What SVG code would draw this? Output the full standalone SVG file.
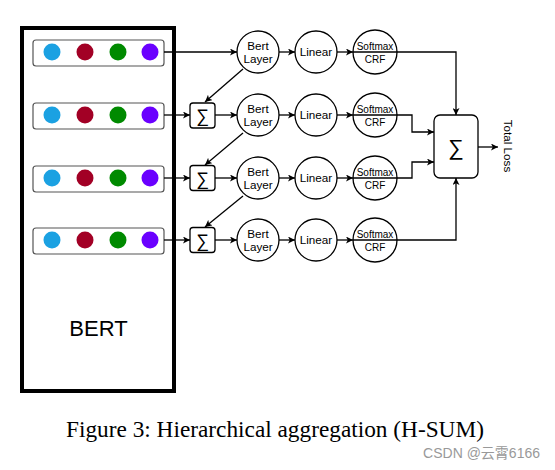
<svg xmlns="http://www.w3.org/2000/svg" width="555" height="470" viewBox="0 0 555 470">
<style>
.ln{fill:none;stroke:#000;stroke-width:1.3}
.nd{fill:#fff;stroke:#000;stroke-width:1.3}
.row{fill:#fff;stroke:#555;stroke-width:1.2}
.t{font-family:"Liberation Sans",Arial,sans-serif;fill:#000;text-anchor:middle}
.s{font-size:11.7px}
.sm{font-size:10px}
.b{fill:#1ba1e2}.r{fill:#a20025}.g{fill:#008a00}.p{fill:#6a00ff}
</style>
<defs>
<marker id="ah" viewBox="0 0 10 10" refX="10" refY="5" markerWidth="7" markerHeight="7" markerUnits="userSpaceOnUse" orient="auto">
<path d="M0,0 L10,5 L0,10 L2.5,5 Z" fill="#000"/>
</marker>
</defs>
<rect width="555" height="470" fill="#fff"/>
<g id="bert">
<rect x="22" y="28" width="152" height="363" fill="#fff" stroke="#000" stroke-width="4"/>
<text class="t" x="98.5" y="336" font-size="22">BERT</text>
</g>
<g id="emb1"><rect class="row" x="33" y="40" width="131" height="26" rx="3"/><circle class="b" cx="52" cy="52" r="8.5"/><circle class="r" cx="85" cy="52" r="8.5"/><circle class="g" cx="118" cy="52" r="8.5"/><circle class="p" cx="150" cy="52" r="8.5"/></g>
<g id="emb2"><rect class="row" x="33" y="103" width="131" height="26" rx="3"/><circle class="b" cx="52" cy="115" r="8.5"/><circle class="r" cx="85" cy="115" r="8.5"/><circle class="g" cx="118" cy="115" r="8.5"/><circle class="p" cx="150" cy="115" r="8.5"/></g>
<g id="emb3"><rect class="row" x="33" y="166" width="131" height="26" rx="3"/><circle class="b" cx="52" cy="178" r="8.5"/><circle class="r" cx="85" cy="178" r="8.5"/><circle class="g" cx="118" cy="178" r="8.5"/><circle class="p" cx="150" cy="178" r="8.5"/></g>
<g id="emb4"><rect class="row" x="33" y="228" width="131" height="26" rx="3"/><circle class="b" cx="52" cy="240" r="8.5"/><circle class="r" cx="85" cy="240" r="8.5"/><circle class="g" cx="118" cy="240" r="8.5"/><circle class="p" cx="150" cy="240" r="8.5"/></g>

<g id="connectors">
<path class="ln" d="M164,52 H237" marker-end="url(#ah)"/>
<path class="ln" d="M164,115 H190" marker-end="url(#ah)"/>
<path class="ln" d="M164,178 H190" marker-end="url(#ah)"/>
<path class="ln" d="M164,240 H190" marker-end="url(#ah)"/>
<path class="ln" d="M215,115 H237" marker-end="url(#ah)"/>
<path class="ln" d="M215,178 H237" marker-end="url(#ah)"/>
<path class="ln" d="M215,240 H237" marker-end="url(#ah)"/>
<path class="ln" d="M279,52 H295" marker-end="url(#ah)"/>
<path class="ln" d="M279,115 H295" marker-end="url(#ah)"/>
<path class="ln" d="M279,178 H295" marker-end="url(#ah)"/>
<path class="ln" d="M279,240 H295" marker-end="url(#ah)"/>
<path class="ln" d="M337,52 H353" marker-end="url(#ah)"/>
<path class="ln" d="M337,115 H353" marker-end="url(#ah)"/>
<path class="ln" d="M337,178 H353" marker-end="url(#ah)"/>
<path class="ln" d="M337,240 H353" marker-end="url(#ah)"/>
<path class="ln" d="M243,69 L205,102" marker-end="url(#ah)"/>
<path class="ln" d="M243,133 L205,165" marker-end="url(#ah)"/>
<path class="ln" d="M243,196 L205,227" marker-end="url(#ah)"/>
<path class="ln" d="M397,52 H456 V115" marker-end="url(#ah)"/>
<path class="ln" d="M397,115 H412 V132 H434" marker-end="url(#ah)"/>
<path class="ln" d="M397,178 H412 V162 H434" marker-end="url(#ah)"/>
<path class="ln" d="M397,240 H456 V178" marker-end="url(#ah)"/>
<path class="ln" d="M478,147 H498" marker-end="url(#ah)"/>
</g>

<g id="sum2"><rect class="nd" x="190" y="103" width="25" height="25" rx="3"/><text class="t" x="202.5" y="122" font-size="18">∑</text></g>
<g id="sum3"><rect class="nd" x="190" y="165.5" width="25" height="25" rx="3"/><text class="t" x="202.5" y="184.5" font-size="18">∑</text></g>
<g id="sum4"><rect class="nd" x="190" y="227.5" width="25" height="25" rx="3"/><text class="t" x="202.5" y="246.5" font-size="18">∑</text></g>

<g id="bl1"><circle class="nd" cx="258" cy="52" r="21"/><text class="t s" x="258" y="50">Bert</text><text class="t s" x="258" y="63">Layer</text></g>
<g id="bl2"><circle class="nd" cx="258" cy="115" r="21"/><text class="t s" x="258" y="113">Bert</text><text class="t s" x="258" y="126">Layer</text></g>
<g id="bl3"><circle class="nd" cx="258" cy="178" r="21"/><text class="t s" x="258" y="176">Bert</text><text class="t s" x="258" y="189">Layer</text></g>
<g id="bl4"><circle class="nd" cx="258" cy="240" r="21"/><text class="t s" x="258" y="238">Bert</text><text class="t s" x="258" y="251">Layer</text></g>

<g id="lin1"><circle class="nd" cx="316" cy="52" r="21"/><text class="t s" x="316" y="56">Linear</text></g>
<g id="lin2"><circle class="nd" cx="316" cy="115" r="21"/><text class="t s" x="316" y="119">Linear</text></g>
<g id="lin3"><circle class="nd" cx="316" cy="178" r="21"/><text class="t s" x="316" y="182">Linear</text></g>
<g id="lin4"><circle class="nd" cx="316" cy="240" r="21"/><text class="t s" x="316" y="244">Linear</text></g>

<g id="sm1"><circle class="nd" cx="375" cy="52" r="22"/><path class="ln" d="M353,52 H397"/><text class="t sm" x="375" y="50">Softmax</text><text class="t sm" x="375" y="63">CRF</text></g>
<g id="sm2"><circle class="nd" cx="375" cy="115" r="22"/><path class="ln" d="M353,115 H397"/><text class="t sm" x="375" y="113">Softmax</text><text class="t sm" x="375" y="126">CRF</text></g>
<g id="sm3"><circle class="nd" cx="375" cy="178" r="22"/><path class="ln" d="M353,178 H397"/><text class="t sm" x="375" y="176">Softmax</text><text class="t sm" x="375" y="189">CRF</text></g>
<g id="sm4"><circle class="nd" cx="375" cy="240" r="22"/><path class="ln" d="M353,240 H397"/><text class="t sm" x="375" y="238">Softmax</text><text class="t sm" x="375" y="251">CRF</text></g>

<g id="total"><rect class="nd" x="434" y="115" width="44" height="63" rx="6"/><text class="t" x="456" y="155" font-size="22">∑</text></g>
<text class="t s" x="0" y="0" transform="translate(504,146) rotate(90)">Total Loss</text>

<text x="66" y="437" font-family="'Liberation Serif','Times New Roman',serif" font-size="23.3" fill="#000">Figure 3: Hierarchical aggregation (H-SUM)</text>
<text x="540" y="458" text-anchor="end" font-family="'Liberation Sans','Noto Sans CJK SC',sans-serif" font-size="14" fill="#999">CSDN @云霄6166</text>
</svg>
